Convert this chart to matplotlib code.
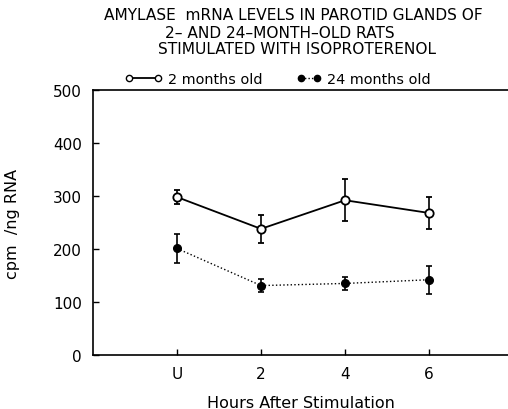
import matplotlib
matplotlib.use("Agg")
import matplotlib.pyplot as plt
from matplotlib.lines import Line2D

categories = ["U", "2", "4", "6"]
young_vals = [298, 238, 292, 268]
young_err = [13, 26, 40, 30]
old_vals = [201, 131, 135, 142]
old_err = [27, 13, 13, 26]
yticks = [0, 100, 200, 300, 400, 500]
title_lines = ["AMYLASE  mRNA LEVELS IN PAROTID GLANDS OF",
               "2\u2013 AND 24\u2013MONTH\u2013OLD RATS",
               "STIMULATED WITH ISOPROTERENOL"]

plt.rcParams['font.family'] = ['DejaVu Sans']
W, H = 508, 410
fig = plt.figure(figsize=(W / 100, H / 100), dpi=100)
ax = fig.add_axes([93 / W, 1 - 356 / H, (508 - 93) / W, (356 - 91) / H])

x = list(range(len(categories)))
ax.errorbar(x, young_vals, yerr=young_err, color='black', lw=1.3, ls='-',
            marker='o', ms=6, mfc='white', mec='black', mew=1.3,
            capsize=2.2, elinewidth=1.2, capthick=1.2)
ax.errorbar(x, old_vals, yerr=old_err, color='black', lw=1.0, ls=':',
            marker='o', ms=5.5, mfc='black', mec='black',
            capsize=2.2, elinewidth=1.2, capthick=1.2)

ax.set_xlim(-1, (508 - 177) / 84)
ax.set_ylim(0, 500)
ax.set_xticks(x)
ax.set_xticklabels(categories)
ax.set_yticks(yticks)
ax.tick_params(direction='in', length=4, width=1, labelsize=11, pad=8)
ax.spines['right'].set_visible(False)
for s in ['left', 'top', 'bottom']:
    ax.spines[s].set_linewidth(1.2)

ax.set_ylabel("cpm  /ng RNA", fontsize=11.5)
ax.yaxis.set_label_coords((20 - 93) / 415, 0.5)
ax.set_xlabel("Hours After Stimulation", fontsize=11.5)
ax.xaxis.set_label_coords(0.5, (356 - 396) / 265)

for txt, (cx, cy) in zip(title_lines, [(293, 16), (280, 33), (297, 50)]):
    fig.text(cx / W, 1 - cy / H, txt, ha='center', va='center', fontsize=11.1)

h1 = Line2D([], [], color='black', lw=1.3, ls='-', marker='o', ms=4.5,
            mfc='white', mec='black')
h2 = Line2D([], [], color='black', lw=1.0, ls=(0, (1, 1.5)), marker='o', ms=4.5,
            mfc='black', mec='black')
fig.legend([h1], ["2 months old"], loc='center left',
           bbox_to_anchor=(125 / W, 1 - 80 / H), frameon=False,
           borderpad=0, borderaxespad=0, handlelength=2.6,
           handletextpad=0.35, numpoints=2, fontsize=10.4)
fig.legend([h2], ["24 months old"], loc='center left',
           bbox_to_anchor=(297 / W, 1 - 80 / H), frameon=False,
           borderpad=0, borderaxespad=0, handlelength=1.7,
           handletextpad=0.35, numpoints=2, fontsize=10.4)

fig.savefig("out.png", dpi=100)
